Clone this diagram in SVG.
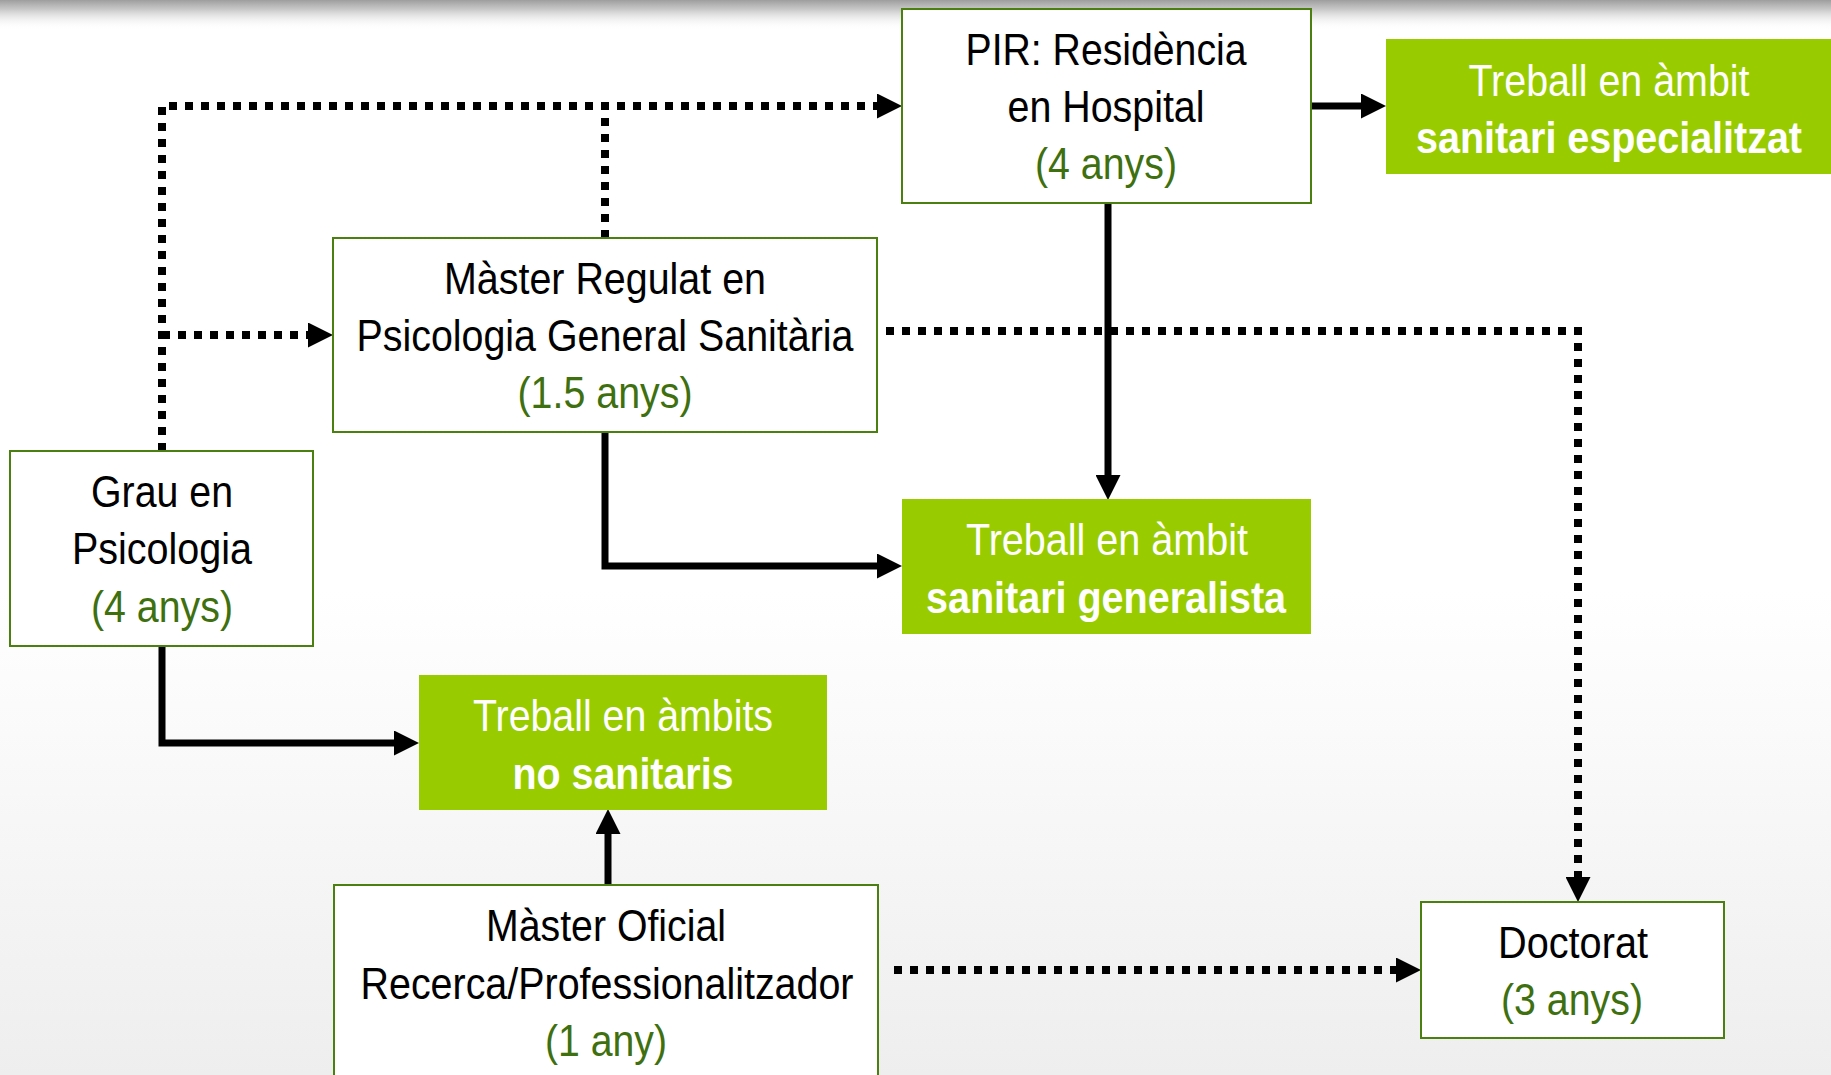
<svg xmlns="http://www.w3.org/2000/svg" width="1831" height="1075" viewBox="0 0 1831 1075">
<defs>
<linearGradient id="bg" x1="0" y1="0" x2="0" y2="1">
<stop offset="0" stop-color="#ffffff"/>
<stop offset="0.55" stop-color="#ffffff"/>
<stop offset="1" stop-color="#eeeeee"/>
</linearGradient>
<linearGradient id="shadow" x1="0" y1="0" x2="0" y2="1">
<stop offset="0" stop-color="#8c8c8c" stop-opacity="0.85"/>
<stop offset="0.3" stop-color="#a0a0a0" stop-opacity="0.6"/>
<stop offset="1" stop-color="#ffffff" stop-opacity="0"/>
</linearGradient>
<marker id="arrow" markerUnits="userSpaceOnUse" viewBox="0 0 25 25" markerWidth="25" markerHeight="25" refX="0" refY="12.5" orient="auto">
<path d="M0,0 L25,12.5 L0,25 z" fill="#000"/>
</marker>
<style>
.box{fill:#ffffff;stroke:#4b7f0f;stroke-width:2}
.gbox{fill:#99cc00}
text{font-family:"Liberation Sans Narrow","Liberation Sans",Arial,sans-serif;font-size:45px;text-anchor:middle}
.dk{fill:#000000}
.yr{fill:#3f7010}
.wt{fill:#ffffff}
.bd{font-weight:bold}
.dot{fill:none;stroke:#000;stroke-width:8;stroke-dasharray:8 8}
.sol{fill:none;stroke:#000;stroke-width:7}
</style>
</defs>
<rect x="0" y="0" width="1831" height="1075" fill="url(#bg)"/>
<rect x="0" y="0" width="1831" height="30" fill="url(#shadow)"/>

<g id="connectors">
<path class="dot" d="M162,451 V106 H877" marker-end="url(#arrow)"/>
<path class="dot" d="M605,238 V110"/>
<path class="dot" d="M162,335 H308" marker-end="url(#arrow)"/>
<path class="dot" d="M886,331 H1578 V877" marker-end="url(#arrow)"/>
<path class="dot" d="M894,970 H1396" marker-end="url(#arrow)"/>
<path class="sol" d="M1311,106 H1361" marker-end="url(#arrow)"/>
<path class="sol" d="M1108,203 V475" marker-end="url(#arrow)"/>
<path class="sol" d="M605,432 V566 H877" marker-end="url(#arrow)"/>
<path class="sol" d="M162,646 V743 H394" marker-end="url(#arrow)"/>
<path class="sol" d="M608,885 V834" marker-end="url(#arrow)"/>
</g>

<g id="pir">
<rect class="box" x="902" y="9" width="409" height="194"/>
<text class="dk" x="1106" y="65" textLength="281" lengthAdjust="spacingAndGlyphs">PIR: Residència</text>
<text class="dk" x="1106" y="122" textLength="197" lengthAdjust="spacingAndGlyphs">en Hospital</text>
<text class="yr" x="1106" y="179" textLength="142" lengthAdjust="spacingAndGlyphs">(4 anys)</text>
</g>

<g id="treball-especialitzat">
<rect class="gbox" x="1386" y="39" width="445" height="135"/>
<text class="wt" x="1609" y="96" textLength="281" lengthAdjust="spacingAndGlyphs">Treball en àmbit</text>
<text class="wt bd" x="1609" y="153" textLength="386" lengthAdjust="spacingAndGlyphs">sanitari especialitzat</text>
</g>

<g id="master-regulat">
<rect class="box" x="333" y="238" width="544" height="194"/>
<text class="dk" x="605" y="294" textLength="322" lengthAdjust="spacingAndGlyphs">Màster Regulat en</text>
<text class="dk" x="605" y="351" textLength="497" lengthAdjust="spacingAndGlyphs">Psicologia General Sanitària</text>
<text class="yr" x="605" y="408" textLength="175" lengthAdjust="spacingAndGlyphs">(1.5 anys)</text>
</g>

<g id="grau">
<rect class="box" x="10" y="451" width="303" height="195"/>
<text class="dk" x="162" y="507" textLength="142" lengthAdjust="spacingAndGlyphs">Grau en</text>
<text class="dk" x="162" y="564" textLength="180" lengthAdjust="spacingAndGlyphs">Psicologia</text>
<text class="yr" x="162" y="622" textLength="142" lengthAdjust="spacingAndGlyphs">(4 anys)</text>
</g>

<g id="treball-generalista">
<rect class="gbox" x="902" y="499" width="409" height="135"/>
<text class="wt" x="1107" y="555" textLength="282" lengthAdjust="spacingAndGlyphs">Treball en àmbit</text>
<text class="wt bd" x="1106" y="613" textLength="360" lengthAdjust="spacingAndGlyphs">sanitari generalista</text>
</g>

<g id="treball-no-sanitaris">
<rect class="gbox" x="419" y="675" width="408" height="135"/>
<text class="wt" x="623" y="731" textLength="300" lengthAdjust="spacingAndGlyphs">Treball en àmbits</text>
<text class="wt bd" x="623" y="789" textLength="221" lengthAdjust="spacingAndGlyphs">no sanitaris</text>
</g>

<g id="master-oficial">
<rect class="box" x="334" y="885" width="544" height="200"/>
<text class="dk" x="606" y="941" textLength="240" lengthAdjust="spacingAndGlyphs">Màster Oficial</text>
<text class="dk" x="607" y="999" textLength="493" lengthAdjust="spacingAndGlyphs">Recerca/Professionalitzador</text>
<text class="yr" x="606" y="1056" textLength="122" lengthAdjust="spacingAndGlyphs">(1 any)</text>
</g>

<g id="doctorat">
<rect class="box" x="1421" y="902" width="303" height="136"/>
<text class="dk" x="1573" y="958" textLength="150" lengthAdjust="spacingAndGlyphs">Doctorat</text>
<text class="yr" x="1572" y="1015" textLength="142" lengthAdjust="spacingAndGlyphs">(3 anys)</text>
</g>
</svg>
